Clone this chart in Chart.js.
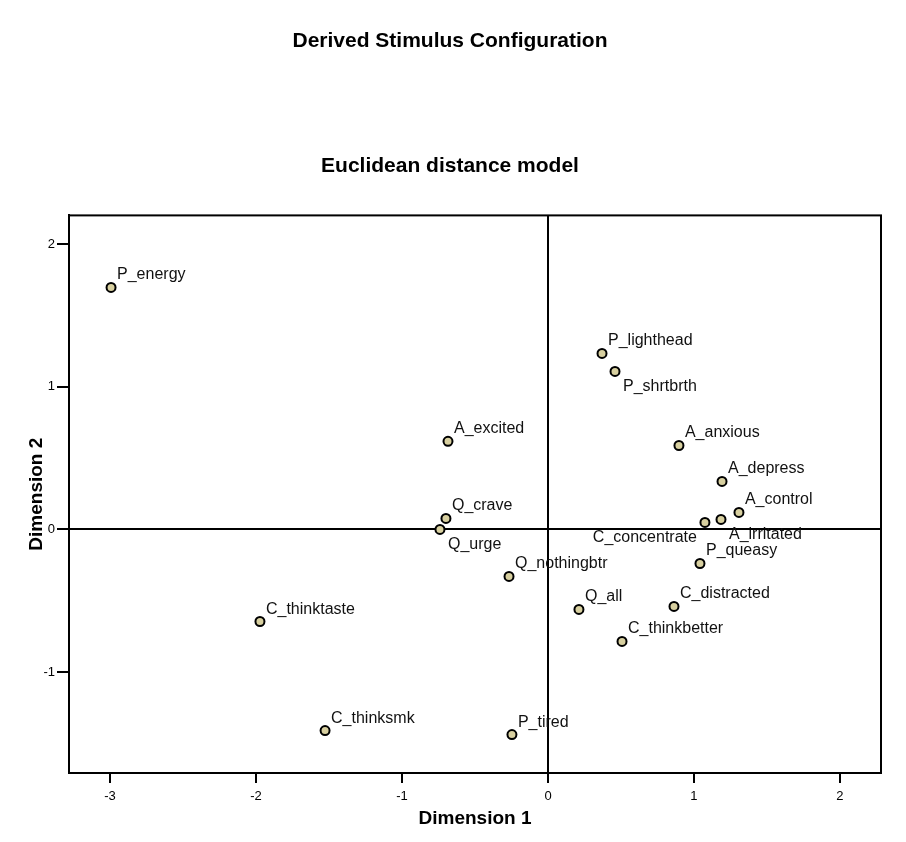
<!DOCTYPE html>
<html lang="en">
<head>
    <meta charset="UTF-8">
    <title>Derived Stimulus Configuration</title>
    <script src="https://cdn.jsdelivr.net/npm/chart.js"></script>
    <style>
        body { margin: 0; background: #fff; }
        canvas { display: block; }
    </style>
</head>
<body>
    <canvas id="myChart" width="906" height="842"></canvas>

    <script>
        const stimuli = ['P_energy', 'P_lighthead', 'P_shrtbrth', 'A_excited', 'A_anxious', 'A_depress',
            'A_control', 'A_irritated', 'C_concentrate', 'P_queasy', 'Q_crave', 'Q_urge',
            'Q_nothingbtr', 'Q_all', 'C_distracted', 'C_thinkbetter', 'C_thinktaste', 'C_thinksmk', 'P_tired'];
        const dim1 = [-2.993, 0.370, 0.459, -0.685, 0.897, 1.192,
            1.308, 1.185, 1.075, 1.041, -0.699, -0.740,
            -0.267, 0.212, 0.863, 0.507, -1.973, -1.527, -0.247];
        const dim2 = [1.698, 1.235, 1.109, 0.618, 0.589, 0.337,
            0.119, 0.070, 0.049, -0.239, 0.077, 0.000,
            -0.330, -0.561, -0.540, -0.786, -0.646, -1.411, -1.439];
        const xTicks = [-3, -2, -1, 0, 1, 2];
        const yTicks = [-1, 0, 1, 2];

        // where each label sits relative to its point
        const labelPos = ['ne', 'ne', 'se', 'ne', 'ne', 'ne',
            'ne', 'se', 'sw', 'ne', 'ne', 'se',
            'ne', 'ne', 'ne', 'ne', 'ne', 'ne', 'ne'];

        const FONT = "Arial, 'Liberation Sans', sans-serif";

        const pointLabels = {
            id: 'pointLabels',
            afterDatasetsDraw(chart) {
                const ctx = chart.ctx;
                const meta = chart.getDatasetMeta(0);
                ctx.save();
                ctx.font = '16px ' + FONT;
                ctx.fillStyle = '#111';
                ctx.textBaseline = 'alphabetic';
                meta.data.forEach((pt, i) => {
                    const pos = labelPos[i];
                    if (pos === 'ne') {
                        ctx.textAlign = 'left';
                        ctx.fillText(stimuli[i], pt.x + 6, pt.y - 8);
                    } else if (pos === 'se') {
                        ctx.textAlign = 'left';
                        ctx.fillText(stimuli[i], pt.x + 8, pt.y + 20);
                    } else {
                        ctx.textAlign = 'right';
                        ctx.fillText(stimuli[i], pt.x - 8, pt.y + 20);
                    }
                });
                ctx.restore();
            }
        };

        const frame = {
            id: 'frame',
            afterDraw(chart) {
                const a = chart.chartArea;
                const ctx = chart.ctx;
                ctx.save();
                ctx.strokeStyle = '#000';
                ctx.lineWidth = 2;
                ctx.strokeRect(a.left, a.top, a.right - a.left, a.bottom - a.top);
                ctx.restore();
            }
        };

        const zeroLine = (c) => c.tick && c.tick.value === 0 ? '#000' : 'rgba(0,0,0,0)';

        const ctx = document.getElementById('myChart').getContext('2d');
        const myChart = new Chart(ctx, {
            type: 'scatter',
            data: {
                datasets: [{
                    label: 'stimuli',
                    data: stimuli.map((s, i) => ({ x: dim1[i], y: dim2[i] })),
                    backgroundColor: '#d8d0a0',
                    borderColor: '#000',
                    borderWidth: 2,
                    pointRadius: 4.5,
                    pointHoverRadius: 4.5
                }]
            },
            plugins: [pointLabels, frame],
            options: {
                responsive: false,
                animation: false,
                layout: { padding: { left: 0, right: 6, top: 0, bottom: 0 } },
                plugins: {
                    legend: { display: false },
                    tooltip: { enabled: false },
                    title: {
                        display: true,
                        text: 'Derived Stimulus Configuration',
                        color: '#000',
                        font: { family: FONT, size: 21, weight: 'bold' },
                        padding: { top: 29, bottom: 99 }
                    },
                    subtitle: {
                        display: true,
                        text: 'Euclidean distance model',
                        color: '#000',
                        font: { family: FONT, size: 21, weight: 'bold' },
                        padding: { top: 0, bottom: 37 }
                    }
                },
                scales: {
                    x: {
                        type: 'linear',
                        position: 'bottom',
                        min: -3.281,
                        max: 2.281,
                        afterBuildTicks: (s) => { s.ticks = xTicks.map(v => ({ value: v })); },
                        afterFit: (s) => { s.height = 69; },
                        grid: { color: zeroLine, lineWidth: 2, tickColor: '#000', tickWidth: 2, tickLength: 10 },
                        border: { color: '#000', width: 2 },
                        ticks: { color: '#000', padding: 6, font: { family: FONT, size: 13 } },
                        title: {
                            display: true,
                            text: 'Dimension 1',
                            color: '#000',
                            font: { family: FONT, size: 19, weight: 'bold' },
                            padding: { top: 0, bottom: 12 }
                        }
                    },
                    y: {
                        type: 'linear',
                        position: 'left',
                        min: -1.709,
                        max: 2.2035,
                        afterBuildTicks: (s) => { s.ticks = yTicks.map(v => ({ value: v })); },
                        afterFit: (s) => { s.width = 69; },
                        grid: { color: zeroLine, lineWidth: 2, tickColor: '#000', tickWidth: 2, tickLength: 12 },
                        border: { color: '#000', width: 2 },
                        ticks: { color: '#000', padding: 2, font: { family: FONT, size: 13 } },
                        title: {
                            display: true,
                            text: 'Dimension 2',
                            color: '#000',
                            font: { family: FONT, size: 19, weight: 'bold' },
                            padding: { top: 25, bottom: 0 }
                        }
                    },
                    // empty right-hand axis, only reserves room so the plot ends where the original does
                    yRight: {
                        type: 'linear',
                        position: 'right',
                        display: true,
                        afterFit: (s) => { s.width = 19; },
                        grid: { display: false },
                        border: { display: false },
                        ticks: { display: false }
                    }
                }
            }
        });
    </script>
</body>
</html>
